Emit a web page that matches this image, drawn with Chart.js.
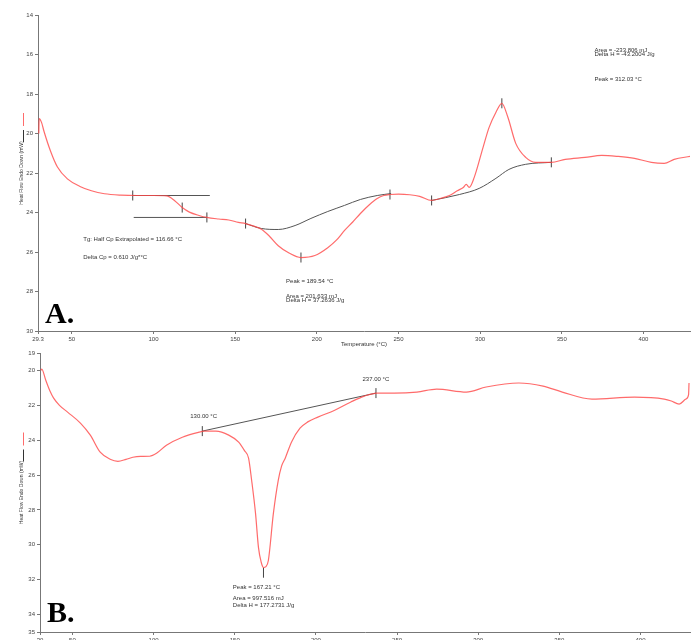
<!DOCTYPE html>
<html>
<head>
<meta charset="utf-8">
<script src="https://cdn.jsdelivr.net/npm/chart.js@4.4.0/dist/chart.umd.min.js"></script>
<style>
html, body { margin:0; padding:0; background:#fff; overflow:hidden; width:696px; height:640px; }
#wrapA { position:absolute; left:0; top:0; width:696px; height:348px; }
#wrapB { position:absolute; left:0; top:340px; width:696px; height:310px; }
</style>
</head>
<body>
<div id="wrapA"><canvas id="chartA"></canvas></div>
<div id="wrapB"><canvas id="chartB"></canvas></div>
<script>
// ---- panel A data (temperature °C, heat flow mW)
var tempA = [29.8, 30.0, 31.5, 33.0, 37.0, 41.2, 47.3, 55, 62, 70, 80, 90, 100, 108, 113, 117.6, 122, 127.9, 132.7, 140,
    146.1, 152, 156.4, 161, 166.1, 171, 176.4, 183, 190.3, 198.8, 206.7, 212, 217, 222, 226.7, 232, 237, 241, 244.8, 250,
    256.9, 263, 270.3, 276, 281.2, 286, 289.7, 291.5, 293.3, 296.4, 301.8, 305.5, 309.7, 313.3, 317.0, 321.8, 327.9, 333.9,
    343.6, 352.1, 364.2, 374.5, 384.2, 394.5, 404.8, 412.7, 418.8, 428.5];
var heatA = [20.0, 19.25, 19.45, 19.9, 20.9, 21.7, 22.3, 22.68, 22.9, 23.05, 23.12, 23.14, 23.14, 23.16, 23.4, 23.75, 23.98, 24.15, 24.25, 24.33,
    24.38, 24.5, 24.56, 24.68, 24.85, 25.2, 25.68, 26.05, 26.28, 26.18, 25.78, 25.4, 24.91, 24.48, 24.05, 23.62, 23.29, 23.14, 23.09, 23.07,
    23.1, 23.18, 23.39, 23.28, 23.14, 22.9, 22.73, 22.58, 22.73, 22.22, 20.70, 19.69, 18.92, 18.47, 19.18, 20.50, 21.21, 21.46,
    21.46, 21.31, 21.21, 21.11, 21.16, 21.26, 21.46, 21.51, 21.31, 21.16];

var tgUpperT = [87.3, 134.5];
var tgUpperH = [23.14, 23.14];
var tgLowerT = [87.9, 132.7];
var tgLowerH = [24.25, 24.25];
var base1T = [156.4, 166.1, 176.4, 186.7, 196.4, 206.7, 217.0, 226.7, 237.0, 245.5];
var base1H = [24.56, 24.81, 24.86, 24.66, 24.30, 23.95, 23.64, 23.34, 23.14, 23.04];
var base2T = [270.3, 287.3, 299.4, 309.7, 317.6, 327.9, 343.6];
var base2H = [23.39, 23.09, 22.78, 22.27, 21.82, 21.56, 21.46];
var markAT = [87.3, 117.6, 132.7, 156.4, 190.3, 244.8, 270.3, 313.3, 343.6];
var markAH = [23.14, 23.75, 24.25, 24.56, 26.28, 23.09, 23.39, 18.47, 21.46];

var ticksAx = [29.3, 50, 100, 150, 200, 250, 300, 350, 400];
var ticksAy = [14, 16, 18, 20, 22, 24, 26, 28, 30];

// ---- panel B data
var tempB = [30.5, 31.1, 33.5, 36, 38.4, 42, 47.0, 54.9, 61.0, 67.1, 73.2, 78.0, 83, 87.2, 92, 97.6, 101.8, 107.9, 117.7, 128.0,
    131.1, 138.4, 146.3, 152.4, 156, 158.5, 160.4, 162.8, 164.6, 166.3, 167.7, 169.2, 170.7, 173.8, 176.8, 178.8, 181.1, 185, 190.2, 195,
    201.2, 211.6, 221.3, 229.9, 237.8, 248.2, 262.2, 274.4, 292.7, 304.9, 325.0, 340, 351.8, 370.1, 396.3, 414.6, 419, 423.8, 428.0,
    429.6, 429.9];
var heatB = [20.0, 19.92, 20.55, 21.15, 21.59, 22.0, 22.39, 23.02, 23.71, 24.69, 25.09, 25.21, 25.1, 24.98, 24.93, 24.92, 24.75, 24.29, 23.83, 23.54,
    23.48, 23.48, 23.71, 24.11, 24.6, 25.03, 26.30, 28.20, 30.15, 31.0, 31.3, 31.25, 30.90, 28.20, 26.30, 25.5, 25.03, 24.1, 23.31, 22.95,
    22.68, 22.28, 21.82, 21.47, 21.30, 21.30, 21.24, 21.07, 21.24, 20.95, 20.72, 20.9, 21.24, 21.64, 21.53, 21.64, 21.75, 21.93, 21.64,
    21.4, 20.72];

var baseBT = [130, 237];
var baseBH = [23.48, 21.30];
var markBT = [130, 237, 167.7];
var markBH = [23.48, 21.30, 31.6];

var ticksBx = [30, 50, 100, 150, 200, 250, 300, 350, 400];
var ticksBy = [19, 20, 22, 24, 26, 28, 30, 32, 34, 35];

var notesA = [
    {t: 57, h: 25.37, text: 'Tg: Half Cp Extrapolated = 116.66 °C'},
    {t: 57, h: 26.28, text: 'Delta Cp = 0.610 J/g*°C'},
    {t: 181.2, h: 27.5, text: 'Peak = 189.54 °C'},
    {t: 181.2, h: 28.26, text: 'Area = 201.633 mJ'},
    {t: 181.2, h: 28.47, text: 'Delta H = 37.2636 J/g'},
    {t: 370, h: 15.78, text: 'Area = -233.806 mJ'},
    {t: 370, h: 15.98, text: 'Delta H = -43.2004 J/g'},
    {t: 370, h: 17.25, text: 'Peak = 312.03 °C'}
];
var notesB = [
    {t: 122.6, h: 22.62, text: '130.00 °C'},
    {t: 228.7, h: 20.49, text: '237.00 °C'},
    {t: 148.8, h: 32.45, text: 'Peak = 167.21 °C'},
    {t: 148.8, h: 33.08, text: 'Area = 997.516 mJ'},
    {t: 148.8, h: 33.48, text: 'Delta H = 177.2731 J/g'}
];

var RED = 'rgba(255,70,70,0.8)';
var GREY = '#555';

function pts(xs, ys) {
    var out = [];
    for (var i = 0; i < xs.length; i++) out.push({x: xs[i], y: ys[i]});
    return out;
}

function lineSet(data, color, smooth) {
    return {
        data: data,
        showLine: true,
        borderColor: color,
        borderWidth: color === RED ? 1.2 : 1,
        pointRadius: 0,
        fill: false,
        cubicInterpolationMode: smooth ? 'monotone' : 'default',
        tension: 0
    };
}

function markSet(data) {
    return {
        data: data,
        showLine: false,
        pointStyle: 'line',
        rotation: 90,
        pointRadius: 5,
        borderColor: '#444',
        borderWidth: 1
    };
}

function notePlugin(notes, letter, letterDrop) {
    return {
        id: 'notes',
        afterDatasetsDraw: function(chart) {
            var ctx = chart.ctx, sx = chart.scales.x, sy = chart.scales.y, area = chart.chartArea;
            ctx.save();
            ctx.fillStyle = '#333';
            ctx.font = '6px "Liberation Sans"';
            ctx.textBaseline = 'middle';
            notes.forEach(function(n) {
                ctx.fillText(n.text, sx.getPixelForValue(n.t), sy.getPixelForValue(n.h));
            });
            ctx.font = 'bold 30px "Liberation Serif"';
            ctx.fillStyle = '#000';
            ctx.textBaseline = 'alphabetic';
            ctx.fillText(letter, area.left + 7, area.bottom - letterDrop);
            // little legend strokes beside the y title
            var cy = (area.top + area.bottom) / 2;
            ctx.lineWidth = 1;
            ctx.strokeStyle = RED;
            ctx.beginPath(); ctx.moveTo(23.5, cy - 60); ctx.lineTo(23.5, cy - 47); ctx.stroke();
            ctx.strokeStyle = '#333';
            ctx.beginPath(); ctx.moveTo(23.5, cy - 43); ctx.lineTo(23.5, cy - 31); ctx.stroke();
            ctx.restore();
        }
    };
}

function axis(ticks, min, max, opts) {
    var o = {
        type: 'linear',
        min: min,
        max: max,
        afterBuildTicks: function(scale) {
            scale.ticks = ticks.map(function(v) { return {value: v}; });
        },
        ticks: {
            autoSkip: false,
            maxRotation: 0,
            padding: 2,
            color: '#444',
            font: {family: 'Liberation Sans', size: 6},
            callback: function(v) { return String(v); }
        },
        grid: {drawOnChartArea: false, drawTicks: true, tickLength: 3, color: '#777'},
        border: {display: true, color: '#777', width: 1}
    };
    for (var k in opts) o[k] = opts[k];
    return o;
}

function makeChart(id, datasets, xs, ys, notes, letter, letterDrop, cfg) {
    new Chart(document.getElementById(id), {
        type: 'scatter',
        data: {datasets: datasets},
        options: {
            responsive: true,
            maintainAspectRatio: false,
            animation: false,
            layout: {padding: {top: cfg.top, left: 0, right: 0, bottom: 0}},
            plugins: {legend: {display: false}, tooltip: {enabled: false}},
            scales: {
                x: axis(xs, cfg.xmin, cfg.xmax, {
                    title: {display: cfg.xtitle, text: 'Temperature (°C)', color: '#333',
                        font: {family: 'Liberation Sans', size: 6}, padding: 0},
                    afterFit: function(s) { s.height = cfg.xh; }
                }),
                y: axis(ys, cfg.ymin, cfg.ymax, {
                    reverse: true,
                    title: {display: true, text: 'Heat Flow Endo Down (mW)', color: '#333',
                        font: {family: 'Liberation Sans', size: 5}, padding: {top: 19, bottom: 0}},
                    afterFit: function(s) { s.width = cfg.yw; }
                })
            }
        },
        plugins: [notePlugin(notes, letter, letterDrop)]
    });
}

makeChart('chartA', [
    lineSet(pts(tempA, heatA), RED, true),
    lineSet(pts(tgUpperT, tgUpperH), GREY, false),
    lineSet(pts(tgLowerT, tgLowerH), GREY, false),
    lineSet(pts(base1T, base1H), GREY, true),
    lineSet(pts(base2T, base2H), GREY, true),
    markSet(pts(markAT, markAH))
], ticksAx, ticksAy, notesA, 'A.', 8,
    {top: 15, xmin: 29.3, xmax: 428.5, ymin: 14, ymax: 30, xh: 17, yw: 38, xtitle: true});

makeChart('chartB', [
    lineSet(pts(tempB, heatB), RED, true),
    lineSet(pts(baseBT, baseBH), GREY, false),
    markSet(pts(markBT, markBH))
], ticksBx, ticksBy, notesB, 'B.', 10,
    {top: 13, xmin: 30, xmax: 430.5, ymin: 19, ymax: 35, xh: 18, yw: 40, xtitle: false});
</script>
</body>
</html>
